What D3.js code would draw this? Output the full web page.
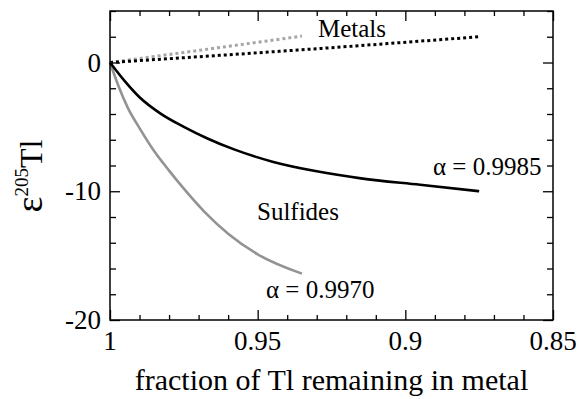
<!DOCTYPE html>
<meta charset="utf-8">
<style>
	body { margin: 0; background: #fff; }
	.frame { fill: none; stroke: #000; stroke-width: 1.5; }
	.tick line { stroke: #000; stroke-width: 1.3; }
</style>
<body>
<script src="https://d3js.org/d3.v7.min.js"></script>
<script>

	//Fraction remaining / epsilon values
	var sulfHiF   = [1, 0.995, 0.990, 0.983, 0.975, 0.967, 0.958, 0.945, 0.930, 0.915, 0.895, 0.875];
	var sulfHiEps = [0, -1.45, -2.7, -3.95, -5.0, -5.9, -6.75, -7.7, -8.45, -9.0, -9.5, -10.0];
	var sulfLoF   = [1, 0.997, 0.994, 0.990, 0.985, 0.980, 0.975, 0.968, 0.960, 0.950, 0.935];
	var sulfLoEps = [0, -1.9, -3.5, -5.1, -6.9, -8.4, -9.8, -11.6, -13.3, -14.9, -16.4];
	var metHiF    = [1, 0.9356, 0.875];
	var metHiEps  = [0, 0.98, 2.0];
	var metLoF    = [1, 0.968, 0.935];
	var metLoEps  = [0, 1.0, 2.05];

	var xMajor = [1, 0.95, 0.9, 0.85];
	var yMajor = [0, -10, -20];

	var serif = "'Liberation Serif', 'Times New Roman', serif";

	var W = 582, H = 399;
	var margin = {top: 11, right: 29, bottom: 79, left: 110};
	var w = W - margin.left - margin.right;
	var h = H - margin.top - margin.bottom;

	var svg = d3.select("body").append("svg")
		.attr("width", W)
		.attr("height", H);
	var g = svg.append("g")
		.attr("transform", "translate(" + margin.left + "," + margin.top + ")");

	var x = d3.scaleLinear().domain([1, 0.85]).range([0, w]);
	var y = d3.scaleLinear().domain([-20, 4]).range([h, 0]);

	var xMinor = d3.range(0, 16).map(function(i) { return +(1 - i * 0.01).toFixed(2); });
	var yMinor = d3.range(-20, 5, 2);

	//inward ticks on all four sides
	function isMajorX(v) { return xMajor.some(function(m) { return Math.abs(m - v) < 1e-6; }); }
	function isMajorY(v) { return yMajor.indexOf(v) >= 0; }

	g.append("g").attr("transform", "translate(0," + h + ")")
		.call(d3.axisTop(x).tickValues(xMinor).tickFormat(""))
		.call(function(a) {
			a.select(".domain").remove();
			a.selectAll(".tick line").attr("y2", function(d) { return isMajorX(d) ? -10 : -5; });
		});
	g.append("g")
		.call(d3.axisBottom(x).tickValues(xMinor).tickFormat(""))
		.call(function(a) {
			a.select(".domain").remove();
			a.selectAll(".tick line").attr("y2", function(d) { return isMajorX(d) ? 10 : 5; });
		});
	g.append("g")
		.call(d3.axisRight(y).tickValues(yMinor).tickFormat(""))
		.call(function(a) {
			a.select(".domain").remove();
			a.selectAll(".tick line").attr("x2", function(d) { return isMajorY(d) ? 10 : 6; });
		});
	g.append("g").attr("transform", "translate(" + w + ",0)")
		.call(d3.axisLeft(y).tickValues(yMinor).tickFormat(""))
		.call(function(a) {
			a.select(".domain").remove();
			a.selectAll(".tick line").attr("x2", function(d) { return isMajorY(d) ? -10 : -6; });
		});

	//tick labels
	g.selectAll(".xlab")
		.data(xMajor)
		.enter()
		.append("text")
		.style("font-family", serif)
		.attr("x", function(d) { return x(d); })
		.attr("y", h + 30)
		.attr("text-anchor", "middle")
		.attr("font-size", "27px")
		.text(function(d) { return d; });
	g.selectAll(".ylab")
		.data(yMajor)
		.enter()
		.append("text")
		.style("font-family", serif)
		.attr("x", -9)
		.attr("y", function(d) { return y(d) + 9; })
		.attr("text-anchor", "end")
		.attr("font-size", "27px")
		.text(function(d) { return d; });

	var line = d3.line()
		.x(function(d) { return x(d[0]); })
		.y(function(d) { return y(d[1]); })
		.curve(d3.curveMonotoneX);

	var series = [
		{f: metLoF,  e: metLoEps,  color: "#a6a6a6", dash: "3,3", width: 3},
		{f: metHiF,  e: metHiEps,  color: "#000",    dash: "3,3", width: 3},
		{f: sulfLoF, e: sulfLoEps, color: "#939393", dash: null,  width: 2.6},
		{f: sulfHiF, e: sulfHiEps, color: "#000",    dash: null,  width: 2.6}
	];

	g.selectAll(".curve")
		.data(series)
		.enter()
		.append("path")
		.attr("fill", "none")
		.attr("stroke", function(d) { return d.color; })
		.attr("stroke-width", function(d) { return d.width; })
		.attr("stroke-dasharray", function(d) { return d.dash; })
		.attr("d", function(d) { return line(d.f.map(function(v, i) { return [v, d.e[i]]; })); });

	g.append("rect").attr("class", "frame")
		.attr("width", w).attr("height", h);

	//annotations
	function note(px, py, size, str) {
		g.append("text").style("font-family", serif)
			.attr("x", px).attr("y", py).attr("font-size", size).text(str);
	}
	note(208, 26, "25px", "Metals");
	note(147, 209, "25px", "Sulfides");
	note(323, 164, "25px", "\u03b1 = 0.9985");
	note(156, 287, "25px", "\u03b1 = 0.9970");

	//axis titles
	svg.append("text")
		.style("font-family", serif)
		.attr("x", margin.left + w / 2)
		.attr("y", 390)
		.attr("text-anchor", "middle")
		.attr("font-size", "30px")
		.text("fraction of Tl remaining in metal");

	var yt = svg.append("text")
		.style("font-family", serif)
		.attr("transform", "translate(42,176) rotate(-90)")
		.attr("text-anchor", "middle")
		.attr("font-size", "32px");
	yt.append("tspan").attr("font-size", "38px").text("\u03b5");
	yt.append("tspan").attr("font-size", "19px").attr("dy", -14).text("205");
	yt.append("tspan").attr("dy", 14).text("Tl");

</script>
</body>
